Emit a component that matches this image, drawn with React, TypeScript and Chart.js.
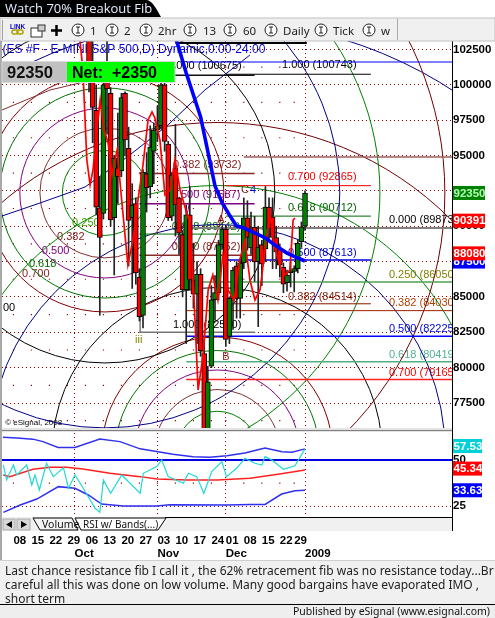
import React, { useEffect, useRef } from "react";
import { Chart, registerables } from "chart.js";

Chart.register(...registerables);

const SANS = '"Liberation Sans",sans-serif';

// ---- candles: bar index 21 = 7 Oct 2008 ... 81 = 2 Jan 2009
const firstBar = 21;
const opens = [105500,100200,98200,91300,90900,100900,99400,90600,94100,93900,99400,95500,90600,91600,86400,83700,93700,92800,95300,96800,97100,100000,95800,90700,94100,92000,89400,85500,90800,86200,85200,86600,81000,75000,80100,84800,85300,88700,89800,82200,84900,87200,84900,87400,90600,88460,89940,87500,88700,88400,91350,90650,89200,88400,87100,86000,86700,86800,87000,88900,90000];
const highs = [107000,103200,100000,93500,100600,103500,99800,95000,98000,99400,99500,97000,93000,92000,87000,94000,95200,97100,97300,98500,101000,100800,96000,93800,97200,92000,89700,91500,92800,88800,87500,87000,82000,80100,85800,86500,89000,90000,90000,85000,87100,87500,87700,92000,91800,91000,90700,90000,89000,92800,92000,92000,90000,88700,87400,86900,87500,87200,89000,90300,92500];
const lows = [99500,95900,90800,83700,90500,96500,90000,86550,91600,93500,95000,87200,85600,85900,83300,82800,91000,92000,93000,96000,96900,95300,90400,90400,89300,88000,85000,81700,85500,84200,81700,80800,74000,74000,80000,83400,84800,88400,81500,81700,82700,83500,83500,87000,88300,88000,86100,82900,85800,87500,89000,87000,87000,86400,85300,85400,85700,85350,86700,88500,89700];
const closes = [100700,98400,91350,89200,100000,99700,90440,94800,93500,99100,96100,90400,91500,86700,83600,93800,92700,95600,96800,97100,100000,96000,90600,93600,91500,89500,85500,90800,86200,85200,86600,81200,74800,79000,84800,85300,88700,89800,82000,84900,86900,84900,87400,90600,89200,89660,87470,88530,87330,91350,89800,89200,88200,87250,85900,86550,86850,87000,88800,89950,92350];

// ---- moving average (thick blue)
const maIdx = [45,48,52,56,58,60,62,64,67,70,73,76,79,81];
const maVal = [103400,100830,97720,92840,91640,90790,90010,89870,89520,89170,88600,88100,87750,87540];

// ---- thin red overlay
const redIdx = [18.5,19.3,20.4,21.3,22.1,23.2,24.1,25.2,26.3,27.4,28.8,30.2,31.8,33.2,34.6,36,37.4,38.5,39.3,40.7,42.1,43.5,44.9,46.3,47.9,49.1,50.2,51.3,52.7,54.1,55.4,56.8,58.2,59.6,61.3,62.9,64.3,65.7,67.1,68.5,69.9,71.3,72.4,74,75.4,76.8,77.7,78.2];
const redVal = [103093,101043,94680,92913,93973,96801,98922,96801,95882,93620,95387,91499,87256,89024,91852,94326,97508,98074,97650,96094,92206,92559,94680,92559,91145,90085,84782,78419,80894,85489,86550,84782,87964,85489,84782,87610,89024,86196,84782,85489,88317,90792,88670,87256,86550,86903,90438,90580];

// ---- free-hand curves
const blueCurveIdx = [-3.17,7.4,19.9,31.6,42.9,53.2,65.7];
const blueCurveVal = [90720,91640,92770,94890,97150,99630,102100];
const brownCurveIdx = [-3.17,10.2,19.6];
const brownCurveVal = [98215,99629,100195];

// ---- fib levels: price, first bar, last bar
const fibPrices = [102950,100675,93732,91587,89442,87952,82500,100743,92865,90712,87613,84514,101608,94892,89870,86050,84030,82225,80419,79165];
const fibFrom = [45,35,35,35,35,35,35,59,59,59,59,59,48,64,48,48,48,48,48,48];
const fibTo = [81.5,67,67,67,67,67,67,99.3,99.3,99.3,99.3,99.3,122,122,122,122,122,122,122,122];
const fibColors = ["#000","#111","#8b2a2a","#800080","#007000","#8b2a2a","#777","#000","#f00000","#006400","#0000e0","#8b1500","#0000ff","#a06060","#808080","#50a050","#a02000","#0000ff","#50b080","#ff2020"];
const fibWidths = [2,1.5,1.5,1.5,1,1.5,1.5,1,1,1,1.5,1,1,1.5,2,1.5,1,1.5,1.5,1.5];
const boxSideIdx = [35.2,35.2];
const boxSideVal = [83720,82450];

// ---- fib arcs: two centres, common ratios
const arcRatios = [0.25,0.382,0.5,0.618,0.7,1,1.382,1.618,2,2.618];
const arcColors = ["#008000","#803030","#800080","#007000","#800000","#000","#000080","#008000","#700000","#000080"];
const arcCentreIdx = [25.4,56.6];
const arcCentrePrice = [92350,74000];
const arcBase = [170,165];

// ---- ticks
const dayTickIdx = [0,5,10,15,20,25,30,35,40,45,50,55,59,64,69,74,78];
const dayTickLabels = ["08","15","22","29","06","13","20","27","03","10","17","24","01","08","15","22","29"];
const monthTickIdx = [17,40,59,81];
const monthTickLabels = ["Oct","Nov","Dec","2009"];
const priceTicks = [77500,80000,82500,85000,87500,90000,92500,95000,97500,100000,102500];
const rsiTicks = [25,50];
const halfPrices = [76250,78750,81250,83750,86250,88750,91250,93750,96250,98750,101250];
const rsiDots = [37.5];

// ---- RSI pane
const rsiIdx = [-2.8,-1.9,0,0.9,3.7,5.1,6,7.2,9.2,11.1,13.9,15.3,17.1,19.4,22.7,24,25,27,30.1,35.2,36.1,39.8,41.2,43,47.2,48.6,50.9,52.9,55.1,57.9,59.2,62,64.3,67.1,69,69.9,71.8,75,78.2,81];
const rsiVal = [47.3,39.2,47.3,41.9,47.3,36.5,41.9,33.8,48.2,41,45.8,34.7,41.9,34.7,23.9,21.7,39.2,32,41.9,32,42.8,46.4,50,41,37.4,42.8,41,32,43.7,49.1,41,45.5,50.9,48.2,47.3,51.8,50,45,46.9,56];
const midIdx = [-2.8,-1,5.4,10.2,14.8,19.3,26.8,35.2,39.9,48.2,56.6,65.7,73.5,81];
const midVal = [41.9,41,45,46.1,46.1,45.1,42.8,41,39.7,39.2,39.2,40.1,42.3,44.6];
const upIdx = [-2.9,1,5.4,8.2,12.4,17.1,24,29.6,35.2,44.3,49.9,54.6,59.3,64.3,69.9,74.6,77.4,81];
const upVal = [62.3,61.8,61.25,59.9,56.7,56.7,61.25,59.9,56,53.1,51.8,51.5,52.3,53.8,56.4,54.5,54.2,56];
const lowIdx = [-2.8,1.9,6.5,12.5,17.1,20.8,24.5,30.5,39.8,43.5,59.2,65.7,69.9,74.5,78.2,81];
const lowVal = [21.7,25.7,28.9,35.6,34.7,31.1,26.2,25.1,25.1,25.8,25.7,26,26,31.6,33.4,33.6];

// ---- texts on the price pane: text, bar index, price, colour
const labelTexts = ["(ES #F - E-MINI S&P 500,D) Dynamic,0:00-24:00","0.000 (100675)","0.382 (93732)","0.500 (91587)","0.618 (89442)","0.700 (87952)","1.000 (82500)","1.000 (100743)","0.700 (92865)","0.618 (90712)","0.500 (87613)","0.382 (84514)","0.000 (89873)","0.250 (86050)","0.382 (84030)","0.500 (82225)","0.618 (80419)","0.700 (79165)","0.250","0.382","0.500","0.618","0.700","00","C","4","A","B","iii"];
const labelIdx = [-3.0,42.7,44.3,44,44,44,44.3,74.6,76.3,76.3,76.3,76.3,104.3,104.3,104.3,104.3,104.3,104.3,16.3,12.1,7.9,4.3,2.4,-2.9,63.2,65.7,56.6,58,33.8];
const labelPrice = [102490,101326,94326,92200,89960,88550,83014,101397,93478,91286,88126,85015,90438,86550,84570,82732,80893,79620,90226,89236,88246,87327,86620,84216,92559,92559,90438,80752,81954];
const labelColors = ["#0000d0","#000","#801a1a","#800080","#007000","#801a1a","#000","#000","#f00000","#006400","#0000e0","#801a00","#000","#808000","#b04000","#0000e0","#50b090","#f00000","#40a000","#802020","#800080","#007000","#802020","#000","#802020","#0000e0","#802020","#802020","#808000"];

// ---- value tags on the right axis
const tagValues = [87500,88080,90391,92350];
const tagColors = ["#0000ff","#ff0000","#ff0000","#008000"];
const tagTexts = ["#ffffff","#ffffff","#ffffff","#b0ffb0"];
const rsiTagValues = [57.53,45.34,33.63];
const rsiTagColors = ["#00d0d8","#ff0000","#0000ff"];

const xMin = -3.17;
const xMax = 121.83;
const priceMax = 103093;
const priceMin = 75450;
const rsiMax = 65.1;
const rsiMin = 19.2;

const zip = (xs: number[], ys: number[]) => xs.map((x, k) => ({ x, y: ys[k] }));
const lineDs = (data: any[], color: string, width: number, order: number, yAxisID = "y") => ({
  type: "line", data, borderColor: color, borderWidth: width, pointRadius: 0, fill: false, tension: 0, order, yAxisID, xAxisID: "x", clip: 0,
});
const noPad = (a: any) => { a.paddingTop = 0; a.paddingBottom = 0; a.paddingLeft = 0; a.paddingRight = 0; };

const overlayPlugin = {
  id: "overlay",
  beforeDatasetsDraw(chart: any) {
    const { ctx, scales, chartArea } = chart;
    ctx.save();
    ctx.beginPath();
    ctx.rect(chartArea.left, scales.y.top, chartArea.right - chartArea.left, scales.y.bottom - scales.y.top);
    ctx.clip();
    ctx.textBaseline = "middle";
    ctx.textAlign = "left";
    labelTexts.forEach((t, k) => {
      ctx.font = (k === 0 ? "12px " : "11px ") + SANS;
      ctx.fillStyle = labelColors[k];
      ctx.fillText(t, scales.x.getPixelForValue(labelIdx[k]), scales.y.getPixelForValue(labelPrice[k]));
    });
    ctx.font = "8px 'Liberation Sans'";
    ctx.fillStyle = "#000";
    ctx.fillText("\u00a9 eSignal, 2008", scales.x.getPixelForValue(-2.3), scales.y.getPixelForValue(76085));
    ctx.restore();
  },
  afterDraw(chart: any) {
    const { ctx, scales, chartArea } = chart;
    ctx.save();
    ctx.textBaseline = "middle";
    ctx.textAlign = "left";
    ctx.font = "bold 11.5px " + SANS;
    const x0 = chartArea.right + 1;
    tagValues.forEach((v, k) => {
      const y = scales.y.getPixelForValue(v);
      ctx.fillStyle = tagColors[k];
      ctx.fillRect(x0, y - 7, 32, 14);
      ctx.fillStyle = tagTexts[k];
      ctx.fillText(String(v), x0 + 0.5, y + 0.5);
    });
    rsiTagValues.forEach((v, k) => {
      const y = scales.y2.getPixelForValue(v);
      ctx.fillStyle = rsiTagColors[k];
      ctx.fillRect(x0, y - 7, 29, 14);
      ctx.fillStyle = "#fff";
      ctx.fillText(v.toFixed(2), x0 + 0.5, y + 0.5);
    });
    ctx.restore();
  },
};

function Chrome() {
  const circles = [78, 112, 146, 190, 230, 271, 321, 369];
  const names = ["1", "2", "2hr", "13", "60", "Daily", "Tick", "w"];
  const nameX = [90, 124, 158, 203, 243, 283, 333, 381];
  return (
    <svg width={495} height={561} style={{ position: "absolute", left: 0, top: 0, pointerEvents: "none" }}>
      <path d="M0 0H146C152 0 156 8 161 17H0Z" fill="#000" />
      <text x={5} y={13} fill="#e8f0ff" fontFamily="'Open Sans'" fontSize={13}>Watch 70% Breakout Fib</text>
      <rect x={0} y={18} width={495} height={23} fill="#f0f0f0" stroke="#c0c0c0" />
      <rect x={2} y={20} width={1} height={20} fill="#a0a0a0" />
      <line x1={397.5} y1={19} x2={397.5} y2={40} stroke="#a8a8a8" />
      <text x={10} y={29} fill="#0000c0" fontFamily="'Liberation Sans'" fontSize={6.5} fontWeight="bold">LINK</text>
      <rect x={12} y={30} width={6} height={4} rx={2} fill="none" stroke="#b0a000" strokeWidth={1.5} />
      <rect x={17} y={30} width={6} height={4} rx={2} fill="none" stroke="#b0a000" strokeWidth={1.5} />
      <rect x={31} y={28} width={11} height={9} fill="#fff" stroke="#333" />
      <rect x={38} y={25} width={7} height={6} fill="#ccc" stroke="#333" />
      <path d="M51 30.5H62M56.5 25V36" stroke="#000" strokeWidth={2.5} />
      {circles.map((cx, k) => (
        <g key={k}>
          <circle cx={cx} cy={30} r={6} fill="#fff" stroke="#222" />
          <path d={`M${cx - 2} 27H${cx + 2}M${cx} 27V33M${cx - 2} 33H${cx + 2}`} stroke="#222" />
          <text x={nameX[k]} y={35} fill="#222" fontFamily="'Noto Sans'" fontSize={11.5}>{names[k]}</text>
        </g>
      ))}
      <rect x={0} y={41} width={2} height={520} fill="#a8a8a8" />
      <rect x={2} y={62} width={65} height={20} fill="#c0c0c0" />
      <rect x={67} y={62} width={108} height={20} fill="#00ff00" />
      <rect x={2} y={61.5} width={173} height={21} fill="none" stroke="#d8d8d8" />
      <text x={7} y={78} fill="#111" fontFamily="'Liberation Sans'" fontWeight="bold" fontSize={16.5}>92350</text>
      <text x={72} y={78} fill="#000" fontFamily="'Liberation Sans'" fontWeight="bold" fontSize={16} xmlSpace="preserve">Net:  +2350</text>
      <rect x={2} y={428} width={450} height={4} fill="#e4e4e4" />
      <line x1={2} y1={430.5} x2={452} y2={430.5} stroke="#808080" />
      <rect x={2} y={517} width={450} height={14} fill="#f0f0f0" />
      <line x1={165} y1={517.5} x2={452} y2={517.5} stroke="#000" />
      <rect x={3} y={519} width={12} height={11} fill="#d8d8d8" stroke="#aaa" />
      <rect x={17} y={519} width={13} height={11} fill="#d8d8d8" stroke="#aaa" />
      <path d="M12 521V528L6 524.5Z" fill="#000" />
      <path d="M21 521V528L27 524.5Z" fill="#000" />
      <path d="M33 518H72L78 530H40Z" fill="#f4f4f4" stroke="#000" />
      <path d="M75 518H166L158 530H81Z" fill="#fff" stroke="#000" />
      <text x={42} y={528} fontFamily="'Noto Sans'" fontSize={10.5} fill="#111">Volume</text>
      <text x={83} y={528} fontFamily="'Noto Sans'" fontSize={10} fill="#111">RSI w/ Bands(...)</text>
      <line x1={452.5} y1={517} x2={452.5} y2={531} stroke="#000" />
      <rect x={0} y={560} width={495} height={1} fill="#cfcfcf" />
    </svg>
  );
}

export default function App() {
  const ref = useRef<HTMLCanvasElement>(null);
  useEffect(() => {
    const idx = opens.map((_, k) => firstBar + k);
    const bodies = idx.map((x, k) => ({ x, y: [opens[k], closes[k]] }));
    const wicks = idx.map((x, k) => ({ x, y: [lows[k], highs[k]] }));
    const bodyColors = idx.map((_, k) => (closes[k] >= opens[k] ? "#008000" : "#ff0000"));
    const datasets: any[] = [];
    arcCentreIdx.forEach((cx, c) => {
      arcRatios.forEach((ratio, k) => {
        datasets.push({
          type: "bubble", data: [{ x: cx, y: arcCentrePrice[c], r: ratio * arcBase[c] }],
          borderColor: arcColors[k], backgroundColor: "transparent", borderWidth: 1, order: 60, xAxisID: "x", yAxisID: "y", clip: 0,
        });
      });
    });
    const dots: any[] = [];
    dayTickIdx.forEach((x) => halfPrices.forEach((y) => dots.push({ x, y })));
    const rdots: any[] = [];
    dayTickIdx.forEach((x) => rsiDots.forEach((y) => rdots.push({ x, y })));
    const dotDs = (data: any[], yAxisID: string) => ({
      type: "scatter", data, pointStyle: "rect", pointRadius: 0.8, borderWidth: 0, backgroundColor: "#900000", order: 70, xAxisID: "x", yAxisID, clip: 0,
    });
    datasets.push(dotDs(dots, "y"), dotDs(rdots, "y2"));
    fibPrices.forEach((p, k) => {
      datasets.push(lineDs([{ x: fibFrom[k], y: p }, { x: fibTo[k], y: p }], fibColors[k], fibWidths[k], 50));
    });
    datasets.push(lineDs(zip(boxSideIdx, boxSideVal), "#808080", 1.5, 50));
    datasets.push(lineDs(zip(blueCurveIdx, blueCurveVal), "#000090", 1, 55));
    datasets.push(lineDs(zip(brownCurveIdx, brownCurveVal), "#803030", 1, 55));
    datasets.push({
      type: "bar", data: wicks, backgroundColor: "#222", borderWidth: 0, barThickness: 1, grouped: false, order: 40, xAxisID: "x", yAxisID: "y", clip: 0,
    });
    datasets.push({
      type: "bar", data: bodies, backgroundColor: bodyColors, borderColor: "#000", borderWidth: 1, borderSkipped: false, barThickness: 5, grouped: false, order: 30, xAxisID: "x", yAxisID: "y", clip: 0,
    });
    datasets.push(lineDs(zip(redIdx, redVal), "#ff0000", 1.7, 20));
    datasets.push(lineDs(zip(maIdx, maVal), "#0000ff", 3.6, 10));
    datasets.push(lineDs([{ x: xMin, y: 50 }, { x: xMax, y: 50 }], "#0000e0", 2, 18, "y2"));
    datasets.push(lineDs(zip(midIdx, midVal), "#ff2020", 1.5, 16, "y2"));
    datasets.push(lineDs(zip(upIdx, upVal), "#3030f0", 1.5, 15, "y2"));
    datasets.push(lineDs(zip(lowIdx, lowVal), "#3030f0", 1.5, 14, "y2"));
    datasets.push(lineDs(zip(rsiIdx, rsiVal), "#20d8d8", 1.2, 12, "y2"));

    const tickFont = { family: SANS, size: 11.5, weight: "bold" as const };
    const chart = new Chart(ref.current as HTMLCanvasElement, {
      type: "bar",
      data: { datasets },
      plugins: [overlayPlugin],
      options: {
        responsive: false,
        animation: false,
        events: [],
        layout: { autoPadding: false, padding: { left: 2, right: 0, top: 0, bottom: 0 } },
        plugins: { legend: { display: false }, tooltip: { enabled: false } },
        scales: {
          x: {
            type: "linear", position: "bottom", min: xMin, max: xMax, offset: false,
            grid: { display: false, drawTicks: false, offset: false },
            border: { display: false },
            afterBuildTicks: (a: any) => { a.ticks = dayTickIdx.map((value) => ({ value })); },
            ticks: {
              autoSkip: false, maxRotation: 0, minRotation: 0, align: "start", padding: 17, color: "#000", font: tickFont,
              callback: (v: any) => dayTickLabels[dayTickIdx.indexOf(v)],
            },
            afterFit: (a: any) => { a.height = 30; noPad(a); },
          },
          x2: {
            type: "linear", position: "bottom", min: xMin, max: xMax, offset: false,
            grid: { display: true, color: "#900000", drawTicks: false, lineWidth: 1, offset: false },
            border: { display: false, dash: [1, 3] },
            afterBuildTicks: (a: any) => { a.ticks = monthTickIdx.map((value) => ({ value })); },
            ticks: {
              autoSkip: false, maxRotation: 0, minRotation: 0, align: "start", padding: 0, color: "#000", font: tickFont,
              callback: (v: any) => monthTickLabels[monthTickIdx.indexOf(v)],
            },
            afterFit: (a: any) => { a.height = 13; noPad(a); },
          },
          y: {
            type: "linear", position: "right", stack: "panes", stackWeight: 391, min: priceMin, max: priceMax,
            grid: { color: "#900000", drawTicks: false, lineWidth: 1 },
            border: { display: true, color: "#000", width: 1, dash: [1, 3] },
            afterBuildTicks: (a: any) => { a.ticks = priceTicks.map((value) => ({ value })); },
            ticks: { padding: 1, color: "#000", font: tickFont, autoSkip: false, callback: (v: any) => String(v) },
            afterFit: (a: any) => { a.width = 43; noPad(a); },
          },
          y2: {
            type: "linear", position: "right", stack: "panes", stackWeight: 85, min: rsiMin, max: rsiMax,
            grid: { color: "#900000", drawTicks: false, lineWidth: 1 },
            border: { display: true, color: "#000", width: 1, dash: [1, 3] },
            afterBuildTicks: (a: any) => { a.ticks = rsiTicks.map((value) => ({ value })); },
            ticks: { padding: 1, color: "#000", font: tickFont, autoSkip: false, callback: (v: any) => String(v) },
            afterFit: (a: any) => { a.width = 43; noPad(a); },
          },
        },
      } as any,
    } as any);
    return () => chart.destroy();
  }, []);

  const textLine = { whiteSpace: "pre" as const, position: "absolute" as const, left: 5, fontFamily: "'Noto Sans'", fontSize: 12, lineHeight: "14px", color: "#222" };
  return (
    <div style={{ position: "absolute", left: 0, top: 0, width: 495, height: 618, overflow: "hidden", background: "#fff" }}>
      <canvas ref={ref} width={495} height={519} style={{ position: "absolute", left: 0, top: 41, width: 495, height: 519 }} />
      <Chrome />
      <div style={{ position: "absolute", left: 0, top: 561, width: 495, height: 43, background: "#f0f0f0", overflow: "hidden" }}>
        <div style={{ ...textLine, top: 3 }}>Last chance resistance fib I call it , the 62% retracement fib was no resistance today...Br</div>
        <div style={{ ...textLine, top: 17 }}>careful all this was done on low volume. Many good bargains have evaporated IMO ,</div>
        <div style={{ ...textLine, top: 31 }}>short term</div>
      </div>
      <div style={{ position: "absolute", left: 0, top: 604, width: 495, height: 14, background: "#eeeeee", borderTop: "1px solid #000", boxSizing: "border-box" }}>
        <div style={{ position: "absolute", right: 5, top: 0, fontFamily: "'Noto Sans'", fontSize: 10.5, lineHeight: "13px", color: "#111", whiteSpace: "pre" }}>Published by eSignal (www.esignal.com)</div>
      </div>
    </div>
  );
}
